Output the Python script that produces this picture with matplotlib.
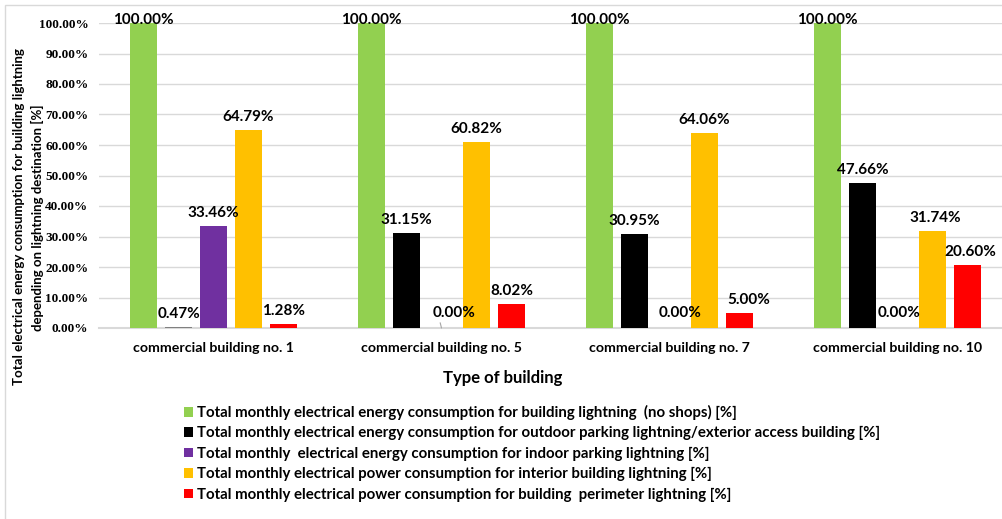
import matplotlib
matplotlib.use('Agg')
import matplotlib.pyplot as plt
from matplotlib.patches import Rectangle
from matplotlib.ticker import FuncFormatter
import numpy as np

# ---------------- data ----------------
categories = ["commercial building no. 1", "commercial building no. 5",
              "commercial building no. 7", "commercial building no. 10"]
building_total = [100.00, 100.00, 100.00, 100.00]
outdoor_parking = [0.47, 31.15, 30.95, 47.66]
indoor_parking = [33.46, 0.00, 0.00, 0.00]
interior_lighting = [64.79, 60.82, 64.06, 31.74]
perimeter_lighting = [1.28, 8.02, 5.00, 20.60]

series_labels = [
    "Total monthly electrical energy consumption for building lightning  (no shops) [%]",
    "Total monthly electrical energy consumption for outdoor parking lightning/exterior access building [%]",
    "Total monthly  electrical energy consumption for indoor parking lightning [%]",
    "Total monthly electrical power consumption for interior building lightning [%]",
    "Total monthly electrical power consumption for building  perimeter lightning [%]",
]
y_ticks = [0, 10, 20, 30, 40, 50, 60, 70, 80, 90, 100]
x_title = "Type of building"
y_title_1 = "Total electrical energy consumption for building lightning"
y_title_2 = "depending on lightning destination [%]"

# ---------------- style ----------------
series = [building_total, outdoor_parking, indoor_parking, interior_lighting, perimeter_lighting]
colors = ["#92D050", "#000000", "#7030A0", "#FFC000", "#FF0000"]
outdoor_point_colors = ["#808080", "#000000", "#000000", "#000000"]
SANS = ["Lato", "DejaVu Sans"]
SERIF = ["Liberation Serif", "DejaVu Serif"]

W, H = 1003, 519
fig = plt.figure(figsize=(W / 100, H / 100), dpi=100)
fig.patch.set_facecolor("white")

ax_left, ax_top, ax_bottom = 99.5, 23, 328
ax = fig.add_axes([ax_left / W, 1 - ax_bottom / H, (W - ax_left) / W, (ax_bottom - ax_top) / H])
group_px = 228.0
x = np.arange(len(categories))
ax.set_xlim(-0.5, 3.5 - (ax_left + 4 * group_px - W) / group_px)
ax.set_ylim(0, 100)

bar_w = 0.12
slot = 0.1535
offsets = (np.arange(5) - 2) * slot

containers = []
for i, vals in enumerate(series):
    bc = ax.bar(x + offsets[i], vals, bar_w, color=colors[i], label=series_labels[i], zorder=3)
    if i == 1:
        for p, pc in zip(bc.patches, outdoor_point_colors):
            p.set_facecolor(pc)
    containers.append(bc)

# value labels
label_dx = {(1, 2): 13, (2, 2): 11, (3, 2): 2, (2, 4): 9, (3, 3): 3, (3, 4): 3}
for i, vals in enumerate(series):
    for j, v in enumerate(vals):
        dx = label_dx.get((j, i), 0)
        if v >= 95:
            dy = 3
        elif v == 0:
            dy = 15
        else:
            dy = 13
        kw = {}
        if (j, i) == (1, 2):
            kw = dict(arrowprops=dict(arrowstyle='-', color='#A6A6A6', lw=0.8,
                                      shrinkA=0, shrinkB=0, relpos=(0.15, 0.0)))
        ax.annotate(f"{v:.2f}%", xy=(x[j] + offsets[i], v), xytext=(dx, dy),
                    textcoords='offset pixels', ha='center', va='center',
                    fontsize=11, fontweight='bold', family=SANS, color='black',
                    annotation_clip=False, zorder=5, **kw)

# axes styling
for s in ['top', 'right', 'left']:
    ax.spines[s].set_visible(False)
ax.spines['bottom'].set_color('#D9D9D9')
ax.spines['bottom'].set_linewidth(1.5)
ax.spines['bottom'].set_zorder(2)
ax.set_yticks(y_ticks)
ax.yaxis.set_major_formatter(FuncFormatter(lambda v, p: f"{v:.2f}%"))
ax.yaxis.grid(True, color='#D9D9D9', linewidth=1.0, zorder=0)
ax.set_axisbelow(True)
ax.tick_params(axis='y', length=0, pad=8)
ax.tick_params(axis='x', length=0, pad=10)
for t in ax.get_yticklabels():
    t.set_family(SERIF)
    t.set_fontweight('bold')
    t.set_fontsize(9.5)
ax.set_xticks(x)
ax.set_xticklabels(categories, family=SANS, fontweight='bold', fontsize=10.2)

fig.text(503 / W, 1 - 378 / H, x_title, ha='center', va='center',
         family=SANS, fontweight='bold', fontsize=12)
fig.text(19 / W, 1 - 217 / H, y_title_1, rotation=90, ha='center', va='center',
         family=SANS, fontweight='bold', fontsize=9.5)
fig.text(37 / W, 1 - 218 / H, y_title_2, rotation=90, ha='center', va='center',
         family=SANS, fontweight='bold', fontsize=9.5)

handles = [c.patches[0] if i != 1 else c.patches[1] for i, c in enumerate(containers)]
leg = fig.legend(handles, series_labels, loc='upper left',
                 bbox_to_anchor=(184 / W, 1 - 405 / H), frameon=False,
                 prop=dict(family=SANS, weight='bold', size=10.8),
                 handlelength=0.6, handleheight=0.6, handletextpad=0.3,
                 labelspacing=0.42, borderpad=0, borderaxespad=0)

fig.patches.append(Rectangle((5 / W, -0.05), 1.0, 1.05 - 5 / H, transform=fig.transFigure,
                             fill=False, edgecolor='#D9D9D9', linewidth=1.0))

fig.savefig("out.png", dpi=100)
